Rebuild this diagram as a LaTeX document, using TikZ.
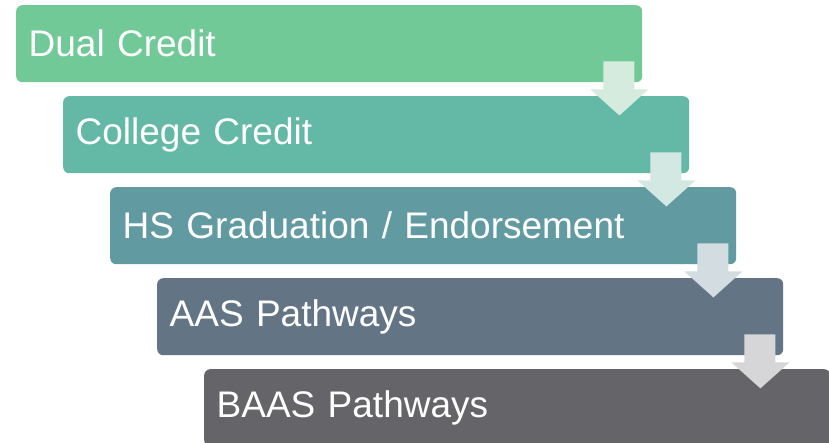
\documentclass[tikz,border=0pt]{standalone}
\usepackage{fontspec}
\setmainfont{Liberation Sans}
\usepackage{tikz}
\usetikzlibrary{positioning, calc}

\definecolor{stepone}{RGB}{112,201,151}
\definecolor{steptwo}{RGB}{100,184,166}
\definecolor{stepthree}{RGB}{98,154,162}
\definecolor{stepfour}{RGB}{99,117,133}
\definecolor{stepfive}{RGB}{100,100,105}
\definecolor{arrone}{RGB}{212,235,221}
\definecolor{arrtwo}{RGB}{212,232,227}
\definecolor{arrthree}{RGB}{211,220,224}
\definecolor{arrfour}{RGB}{214,214,216}

\tikzset{
	stepbox/.style={rounded corners=6pt, anchor=north west, text=white, minimum height=77pt,
		text width=601pt, inner xsep=12.5pt, inner ysep=0pt, align=left,
		font=\fontsize{37pt}{41pt}\selectfont},
}

% block arrow hanging from the lower right corner of a box
\newcommand{\steparrow}[2]{
	\begin{scope}[shift={(#1.south east)}]
		\fill[#2] (-39,21) -- (-8,21) -- (-8,-7) -- (6,-7) -- (-23,-33) -- (-52,-7) -- (-39,-7) -- cycle;
	\end{scope}
}

\begin{document}
\begin{tikzpicture}[x=1pt, y=1pt]
	\useasboundingbox (0,0) rectangle (829,-442);
	
	% boxes
	\node[stepbox, fill=stepone] (dual) at (16,-5) {Dual Credit};
	\node[stepbox, fill=steptwo] (college) at (63,-96) {College Credit};
	\node[stepbox, fill=stepthree] (hsgrad) at (110,-187) {HS Graduation / Endorsement};
	\node[stepbox, fill=stepfour] (aas) at (157,-278) {AAS Pathways};
	\node[stepbox, fill=stepfive] (baas) at (204,-369) {BAAS Pathways};
	
	% arrows
	\steparrow{dual}{arrone}
	\steparrow{college}{arrtwo}
	\steparrow{hsgrad}{arrthree}
	\steparrow{aas}{arrfour}
\end{tikzpicture}
\end{document}
